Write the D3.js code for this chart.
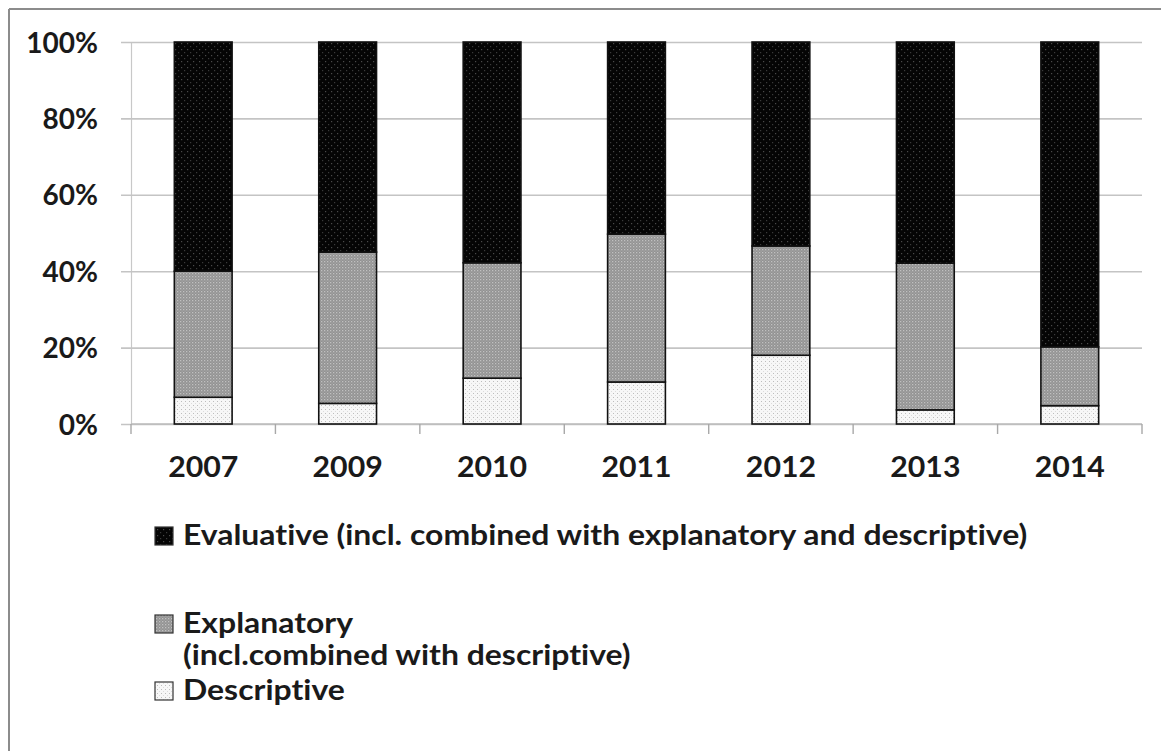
<!DOCTYPE html>
<html>
<head>
<meta charset="utf-8">
<script src="https://cdn.jsdelivr.net/npm/d3@7"></script>
<style>
  html, body { margin: 0; padding: 0; background: #fff; }
  svg { display: block; }
  text { font-family: Lato, "Open Sans", sans-serif; font-weight: 700; fill: #1a1a1a;
         font-variant-ligatures: none; font-feature-settings: "liga" 0, "dlig" 0; }
</style>
</head>
<body>
<svg id="chart" width="1161" height="751"></svg>
<script>
// Survey years on the category axis
const years = ["2007", "2009", "2010", "2011", "2012", "2013", "2014"];
// Share of each type per year (percent), stacked bottom to top
const descriptive = [7.0, 5.4, 12.0, 11.0, 18.0, 3.7, 4.8];
const explanatory = [33.0, 39.6, 30.2, 38.7, 28.6, 38.4, 15.4];
const evaluative  = [60.0, 55.0, 57.8, 50.3, 53.4, 57.9, 79.8];
const yTicks = [0, 20, 40, 60, 80, 100];
const seriesKeys = ["descriptive", "explanatory", "evaluative"];
const legendLines = [
  { key: "evaluative", lines: ["Evaluative (incl. combined with explanatory and descriptive)"] },
  { key: "explanatory", lines: ["Explanatory", "(incl.combined with descriptive)"] },
  { key: "descriptive", lines: ["Descriptive"] }
];

const rows = years.map((y, i) => ({
  year: y,
  descriptive: descriptive[i],
  explanatory: explanatory[i],
  evaluative: evaluative[i]
}));

const svg = d3.select("#chart");

// Textured fills for the three series
const defs = svg.append("defs");
function makePattern(id, size, bg, dots) {
  const p = defs.append("pattern")
    .attr("id", id).attr("patternUnits", "userSpaceOnUse")
    .attr("width", size).attr("height", size);
  p.append("rect").attr("width", size).attr("height", size).attr("fill", bg);
  dots.forEach(d => p.append("rect")
    .attr("x", d[0]).attr("y", d[1]).attr("width", d[2]).attr("height", d[2])
    .attr("fill", d[3]));
}
makePattern("pat-evaluative", 6, "#050505", [[1, 1, 1.2, "#4a4a4a"], [4, 4, 1.2, "#3a3a3a"]]);
makePattern("pat-explanatory", 3, "#929292", [[0, 0, 1.3, "#c0c0c0"], [1.5, 1.5, 1.2, "#aaaaaa"]]);
makePattern("pat-descriptive", 4, "#f7f7f7", [[1, 1, 1, "#bdbdbd"], [3, 3, 1, "#dcdcdc"]]);

const fillFor = k => `url(#pat-${k})`;

// Outer frame (top and left edges)
svg.append("line").attr("x1", 9).attr("x2", 1161).attr("y1", 9).attr("y2", 9)
  .attr("stroke", "#8c8c8c").attr("stroke-width", 2);
svg.append("line").attr("x1", 9).attr("x2", 9).attr("y1", 9).attr("y2", 751)
  .attr("stroke", "#8c8c8c").attr("stroke-width", 2);

const x = d3.scaleBand().domain(years).range([131, 1142])
  .paddingInner(0.6).paddingOuter(0.3);
const y = d3.scaleLinear().domain([0, 100]).range([424, 42]);

// Horizontal gridlines with outward ticks
const yAxis = d3.axisLeft(y).tickValues(yTicks).tickFormat(d => d + "%")
  .tickSize(0).tickPadding(0);
const gy = svg.append("g").attr("transform", "translate(131,0)").call(yAxis);
gy.select(".domain").attr("stroke", "#c8c8c8").attr("stroke-width", 1.2);
gy.selectAll(".tick line").remove();
gy.selectAll(".tick").append("line")
  .attr("x1", -10).attr("x2", 1142 - 131)
  .attr("stroke", "#c4c4c4").attr("stroke-width", 1.6);
gy.selectAll(".tick text").attr("x", -33).attr("dy", "0.36em")
  .style("font-size", "28px").style("font-family", "Lato, sans-serif")
  .style("font-weight", 700).attr("fill", "#1a1a1a");

// Category axis with tick marks between groups
const gx = svg.append("g").attr("transform", "translate(0,424)");
gx.append("line").attr("x1", 131).attr("x2", 1142)
  .attr("stroke", "#bdbdbd").attr("stroke-width", 1.6);
const boundaries = years.map((d, i) => x.range()[0] + i * x.step()).concat([x.range()[1]]);
gx.selectAll("line.sep").data(boundaries).join("line").attr("class", "sep")
  .attr("x1", d => d).attr("x2", d => d).attr("y1", 0).attr("y2", 10)
  .attr("stroke", "#a8a8a8").attr("stroke-width", 1.4);
gx.selectAll("text").data(years).join("text")
  .attr("transform", d => `translate(${x(d) + x.bandwidth() / 2},53) scale(1.08,1)`)
  .attr("text-anchor", "middle").style("font-size", "28px")
  .text(d => d);

// Stacked bars
const stack = d3.stack().keys(seriesKeys)(rows);
svg.append("g").selectAll("g").data(stack).join("g")
  .attr("fill", s => fillFor(s.key))
  .selectAll("rect").data(s => s).join("rect")
  .attr("x", d => x(d.data.year))
  .attr("width", x.bandwidth())
  .attr("y", d => y(d[1]))
  .attr("height", d => y(d[0]) - y(d[1]))
  .attr("stroke", "#111").attr("stroke-width", 1.6);

// Legend
const lg = svg.append("g");
const legendPos = { evaluative: 545, explanatory: 633, descriptive: 700 };
legendLines.forEach(item => {
  const base = legendPos[item.key];
  lg.append("rect").attr("x", 155).attr("y", base - 18).attr("width", 18).attr("height", 18)
    .attr("fill", fillFor(item.key)).attr("stroke", "#333").attr("stroke-width", 1.2);
  item.lines.forEach((t, j) => {
    lg.append("text")
      .attr("transform", `translate(183,${base + j * 32}) scale(1.14,1)`)
      .style("font-size", "28px").text(t);
  });
});
</script>
</body>
</html>
